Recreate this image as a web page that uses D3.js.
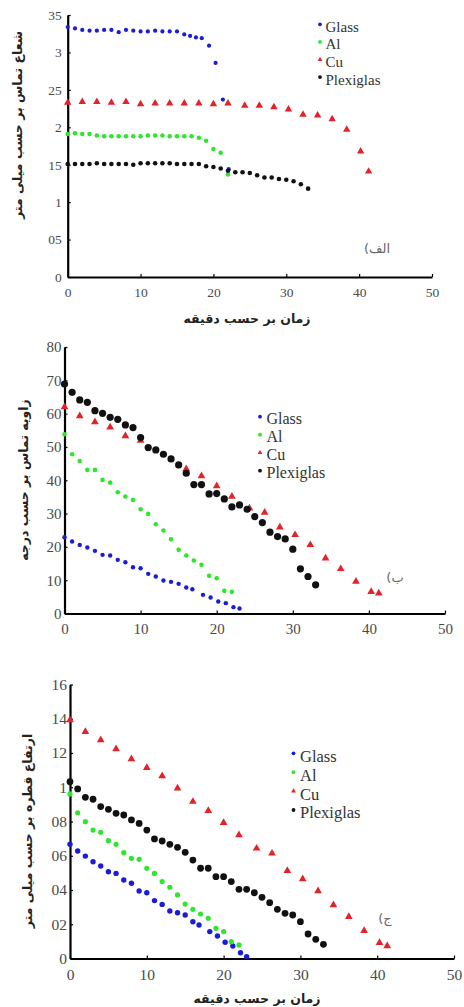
<!DOCTYPE html>
<html><head><meta charset="utf-8">
<script src="https://cdn.jsdelivr.net/npm/d3@7"></script>
<style>body{margin:0;background:#fff}svg{display:block}</style>
</head><body><svg id="c" width="464" height="1007"></svg>
<script>
// ---------- shared ----------
const seriesNames = ["Glass", "Al", "Cu", "Plexiglas"];
const xTicks = [0, 10, 20, 30, 40, 50];
const xTickLabels = ["0", "10", "20", "30", "40", "50"];
const xTitle = "زمان بر حسب دقیقه";

// ---------- panel الف : contact radius (mm) ----------
const yTicksA = [0, 0.5, 1, 1.5, 2, 2.5, 3, 3.5];
const yTickLabelsA = ["0", "05", "1", "15", "2", "25", "3", "35"];
const glassA_x = [0,1,2,3,4,5,6,7,8,9,10,11,12,13,14,15,16,16.8,17.6,18.4,19.4,20.3,21.3,22.1];
const glassA_y = [3.34,3.32,3.30,3.29,3.29,3.30,3.30,3.27,3.30,3.29,3.28,3.28,3.29,3.28,3.28,3.28,3.24,3.22,3.20,3.19,3.09,2.86,2.37,1.44];
const alA_x = [0,1,2,3,4,5,6,7,8,9,10,11,12,13,14,15,16,17,18,19,20,21,22];
const alA_y = [1.91,1.92,1.91,1.91,1.89,1.88,1.88,1.88,1.88,1.88,1.88,1.89,1.89,1.89,1.88,1.88,1.88,1.88,1.86,1.82,1.71,1.66,1.37];
const cuA_x = [0,2,4,6,8,10,12,14,16,18,20,22,24.3,26.3,28.3,30.3,32.3,34.3,36.3,38.3,40.2,41.3];
const cuA_y = [2.33,2.34,2.34,2.33,2.34,2.31,2.32,2.32,2.32,2.32,2.31,2.32,2.29,2.29,2.27,2.24,2.17,2.16,2.11,1.97,1.68,1.41];
const plexA_x = [0,1,2,3,4,5,6,7,8,9,10,11,12,13,14,15,16,17,18,19,20,21,22,23,24,25,26,27,28,29,30,31,32,33];
const plexA_y = [1.51,1.51,1.51,1.51,1.52,1.51,1.51,1.51,1.51,1.50,1.52,1.52,1.52,1.52,1.52,1.51,1.51,1.51,1.51,1.48,1.47,1.45,1.42,1.40,1.40,1.39,1.36,1.33,1.33,1.31,1.30,1.28,1.24,1.18];

// ---------- panel ب : contact angle (deg) ----------
const yTicksB = [0, 10, 20, 30, 40, 50, 60, 70, 80];
const yTickLabelsB = ["0", "10", "20", "30", "40", "50", "60", "70", "80"];
const glassB_x = [0,1,2,3,4,5,6,7,8,9,10,11,12,13,14,15,16,16.8,18.2,19.2,20.2,21.2,22.2,23];
const glassB_y = [22.9,21.6,20.6,19.8,18.8,17.6,17.4,16.1,15.4,13.9,13.6,11.9,11.1,9.9,9.5,8.9,7.8,7.3,5.6,4.8,3.6,3.1,1.9,1.5];
const alB_x = [0,1,2,3,4,5,6,7,8,9,10,11,12,13,14,15,16,17,18,19,20,21,22];
const alB_y = [53.8,47.8,45.8,43.1,43.1,40.1,39.3,36.4,35.1,34.1,31.3,29.9,26.8,24.9,22.3,19.1,17.4,15.9,14.6,11.3,10.6,6.8,6.5];
const cuB_x = [0,2,4,6,8,10,16,18,20,22,24.3,26.3,28.3,30.3,32.3,34.3,36.3,38.3,40.3,41.3];
const cuB_y = [62,59.3,57.5,55.9,53.3,51.9,43.4,41.3,38.3,35.1,31.6,30.3,25.9,23.6,20.6,16.6,13.4,9.6,6.5,6.1];
const plexB_x = [0,1,2,3,4,5,6,7,8,9,10,11,12,13,14,15,16,17,18,19,20,21,22,23,24,25,26,27,28,29,30,31,32,33];
const plexB_y = [68.9,66.4,64.1,63.4,60.9,60.1,58.9,58.3,56.6,55.8,52.8,49.8,49.1,47.8,46.4,44.6,42.1,38.7,38.7,35.9,36.0,34.4,32.0,32.6,31.3,29.1,27.3,24.4,23.1,22.4,19.3,13.4,11.1,8.6];

// ---------- panel ج : drop height (mm) ----------
const yTicksC = [0, 0.2, 0.4, 0.6, 0.8, 1, 1.2, 1.4, 1.6];
const yTickLabelsC = ["0", "02", "04", "06", "08", "1", "12", "14", "16"];
const glassC_x = [0,1,2,3,4,5,6,7,8,9,10,11,12,13,14,15,16,16.8,18.2,19.2,20.2,21.2,22.2,23];
const glassC_y = [0.667,0.628,0.598,0.565,0.540,0.507,0.497,0.458,0.439,0.394,0.384,0.338,0.316,0.277,0.267,0.254,0.215,0.196,0.157,0.131,0.095,0.073,0.034,0.011];
const alC_x = [0,1,2,3,4,5,6,7,8,9,10,11,12,13,14,15,16,17,18,19,20,21,22];
const alC_y = [0.961,0.851,0.799,0.750,0.737,0.688,0.667,0.618,0.585,0.579,0.527,0.497,0.449,0.416,0.371,0.318,0.287,0.260,0.235,0.176,0.157,0.098,0.079];
const cuC_x = [0,2,4,6,8,10,12,14,16,18,20,22,24.3,26.3,28.3,30.3,32.3,34.3,36.3,38.3,40.3,41.3];
const cuC_y = [1.393,1.324,1.276,1.223,1.165,1.114,1.066,0.994,0.916,0.863,0.793,0.721,0.643,0.614,0.513,0.464,0.394,0.312,0.244,0.162,0.092,0.073];
const plexC_x = [0,1,2,3,4,5,6,7,8,9,10,11,12,13,14,15,16,17,18,19,20,21,22,23,24,25,26,27,28,29,30,31,32,33];
const plexC_y = [1.032,0.990,0.941,0.930,0.887,0.871,0.848,0.838,0.809,0.789,0.750,0.698,0.686,0.667,0.649,0.620,0.575,0.527,0.527,0.478,0.478,0.449,0.404,0.404,0.384,0.357,0.326,0.287,0.264,0.254,0.215,0.143,0.112,0.083];

// ---------- styling / layout ----------
const colors = {Glass: "#1c1cd8", Al: "#2fe62f", Cu: "#e2232a", Plexiglas: "#111111"};
const serif = "'Liberation Serif', 'Times New Roman', serif";
const arabic = "'DejaVu Sans', sans-serif";

const panels = [
  {
    xr: [67.7, 432], yr: [277, 15], yMax: 3.5,
    yTicks: yTicksA, yTickLabels: yTickLabelsA,
    series: {Glass: [glassA_x, glassA_y], Al: [alA_x, alA_y], Cu: [cuA_x, cuA_y], Plexiglas: [plexA_x, plexA_y]},
    r: {Glass: 2.1, Al: 2.3, Plexiglas: 2.3}, tri: 24,
    tickFont: 13.5, yPad: 6, xPad: 10,
    yTitle: "شعاع تماس بر حسب میلی متر", yTitleX: 17, yTitleY: 125,
    xTitleShow: true, xTitleX: 247, xTitleY: 318,
    tag: "الف)", tagX: 377, tagY: 248,
    leg: {mx: 320, tx: 325.5, y0: 31.7, dy: 17.6, font: 15, off: 7.4}
  },
  {
    xr: [64.5, 445], yr: [613.5, 347], yMax: 80,
    yTicks: yTicksB, yTickLabels: yTickLabelsB,
    series: {Glass: [glassB_x, glassB_y], Al: [alB_x, alB_y], Cu: [cuB_x, cuB_y], Plexiglas: [plexB_x, plexB_y]},
    r: {Glass: 2.2, Al: 2.3, Plexiglas: 3.6}, tri: 26,
    tickFont: 15, yPad: 3, xPad: 10,
    yTitle: "زاویه تماس بر حسب درجه", yTitleX: 23, yTitleY: 480,
    xTitleShow: false,
    tag: "ب)", tagX: 395, tagY: 577,
    leg: {mx: 260, tx: 266.5, y0: 424.3, dy: 18, font: 16, off: 7.6}
  },
  {
    xr: [70, 454], yr: [958.5, 684.5], yMax: 1.6,
    yTicks: yTicksC, yTickLabels: yTickLabelsC,
    series: {Glass: [glassC_x, glassC_y], Al: [alC_x, alC_y], Cu: [cuC_x, cuC_y], Plexiglas: [plexC_x, plexC_y]},
    r: {Glass: 2.7, Al: 2.6, Plexiglas: 3.4}, tri: 26,
    tickFont: 15.5, yPad: 3, xPad: 10,
    yTitle: "ارتفاع قطره بر حسب میلی متر", yTitleX: 27, yTitleY: 831,
    xTitleShow: true, xTitleX: 257, xTitleY: 998,
    tag: "ج)", tagX: 385, tagY: 918,
    leg: {mx: 293.5, tx: 300, y0: 761.7, dy: 18.9, font: 16.5, off: 8.4}
  }
];

const svg = d3.select("#c");

panels.forEach(p => {
  const x = d3.scaleLinear().domain([0, 50]).range(p.xr);
  const y = d3.scaleLinear().domain([0, p.yMax]).range(p.yr);
  const g = svg.append("g");

  // axes
  const xAxis = d3.axisBottom(x).tickValues(xTicks)
    .tickFormat((d, i) => xTickLabels[i]).tickSizeInner(-3).tickSizeOuter(0).tickPadding(p.xPad);
  const yAxis = d3.axisLeft(y).tickValues(p.yTicks)
    .tickFormat((d, i) => p.yTickLabels[i]).tickSizeInner(-3).tickSizeOuter(0).tickPadding(p.yPad);

  const gx = g.append("g").attr("transform", `translate(0,${p.yr[0]})`).call(xAxis);
  const gy = g.append("g").attr("transform", `translate(${p.xr[0]},0)`).call(yAxis);
  [gx, gy].forEach(a => {
    a.select(".domain").attr("stroke", "#000").attr("stroke-width", 2.2);
    a.selectAll(".tick line").attr("stroke", "#000").attr("stroke-width", 1.2);
    a.selectAll(".tick text").attr("fill", "#4a4a4a")
      .style("font-family", serif).style("font-size", p.tickFont + "px");
  });

  // points
  seriesNames.forEach(name => {
    const [xs, ys] = p.series[name];
    const pts = xs.map((v, i) => [v, ys[i]]);
    if (name === "Cu") {
      g.append("g").selectAll("path").data(pts).join("path")
        .attr("d", d3.symbol(d3.symbolTriangle, p.tri)())
        .attr("transform", d => `translate(${x(d[0])},${y(d[1])})`)
        .attr("fill", colors[name]);
    } else {
      g.append("g").selectAll("circle").data(pts).join("circle")
        .attr("cx", d => x(d[0])).attr("cy", d => y(d[1]))
        .attr("r", p.r[name]).attr("fill", colors[name]);
    }
  });

  // legend
  seriesNames.forEach((name, i) => {
    const by = p.leg.y0 + i * p.leg.dy;
    const my = by - p.leg.off;
    if (name === "Cu") {
      g.append("path").attr("d", d3.symbol(d3.symbolTriangle, 10)())
        .attr("transform", `translate(${p.leg.mx},${my})`).attr("fill", colors[name]);
    } else {
      g.append("circle").attr("cx", p.leg.mx).attr("cy", my).attr("r", 1.9).attr("fill", colors[name]);
    }
    g.append("text").attr("x", p.leg.tx).attr("y", by).text(name)
      .attr("fill", "#333").style("font-family", serif).style("font-size", p.leg.font + "px");
  });

  // titles
  g.append("text")
    .attr("transform", `translate(${p.yTitleX},${p.yTitleY}) rotate(-90)`)
    .attr("text-anchor", "middle").attr("dominant-baseline", "central")
    .attr("fill", "#222").style("font-family", arabic).style("font-weight", "bold")
    .style("font-size", "12.5px").text(p.yTitle);
  if (p.xTitleShow) {
    g.append("text").attr("x", p.xTitleX).attr("y", p.xTitleY)
      .attr("text-anchor", "middle").attr("dominant-baseline", "central")
      .attr("fill", "#222").style("font-family", arabic).style("font-weight", "bold")
      .style("font-size", "12.5px").text(xTitle);
  }
  g.append("text").attr("x", p.tagX).attr("y", p.tagY)
    .attr("text-anchor", "middle").attr("dominant-baseline", "central")
    .attr("direction", "rtl").style("direction", "rtl")
    .attr("fill", "#666").style("font-family", arabic).style("font-size", "13px").text(p.tag);
});
</script></body></html>
